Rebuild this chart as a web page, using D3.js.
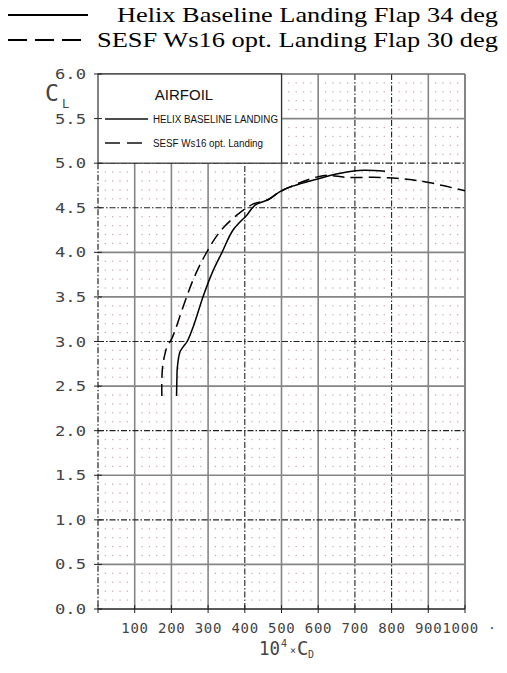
<!DOCTYPE html>
<html>
<head>
<meta charset="utf-8">
<script src="https://cdn.jsdelivr.net/npm/d3@7"></script>
<style>
  body { margin: 0; background: #fff; }
  svg { display: block; }
</style>
</head>
<body>
<div id="chart"></div>
<script>
// values (CD in 10^4 units, CL)
const helixCD = [214, 215, 216, 223, 232, 243, 259, 286, 311, 338, 368, 406, 428, 463, 496, 515, 613, 678, 722, 782];
const helixCL = [2.39, 2.59, 2.70, 2.88, 2.94, 3.00, 3.16, 3.50, 3.77, 4.00, 4.25, 4.42, 4.53, 4.59, 4.68, 4.72, 4.84, 4.90, 4.92, 4.91];
const sesfCD = [174, 174, 177, 183, 188, 202, 232, 259, 292, 332, 379, 422, 463, 496, 613, 678, 768, 842, 905, 1000];
const sesfCL = [2.39, 2.59, 2.75, 2.87, 2.94, 3.04, 3.39, 3.69, 3.97, 4.23, 4.42, 4.54, 4.59, 4.68, 4.86, 4.84, 4.84, 4.82, 4.78, 4.69];

const xTicks = [100, 200, 300, 400, 500, 600, 700, 800, 900, 1000];
const yTicks = [0, 0.5, 1.0, 1.5, 2.0, 2.5, 3.0, 3.5, 4.0, 4.5, 5.0, 5.5, 6.0];

const seriesNames = ["Helix Baseline Landing Flap 34 deg", "SESF Ws16 opt. Landing Flap 30 deg"];
const innerNames = ["HELIX BASELINE LANDING", "SESF Ws16 opt. Landing"];

const width = 507, height = 673;
const plotFont = "'DejaVu Sans Mono', monospace";

const svg = d3.select("#chart")
  .append("svg")
    .attr("width", width)
    .attr("height", height);

svg.append("rect").attr("width", width).attr("height", height).attr("fill", "#fff");

const x = d3.scaleLinear().domain([0, 1000]).range([98, 465]);
const y = d3.scaleLinear().domain([0, 6]).range([609, 74]);

// minor dot lattice
const dots = svg.append("g").attr("fill", "#c7a2ac");
for (let cx = 20; cx < 1000; cx += 20) {
  if (cx % 100 === 0) continue;
  for (let k = 1; k < 60; k++) {
    if (k % 5 === 0) continue;
    dots.append("rect")
      .attr("x", x(cx) - 0.6)
      .attr("y", y(k / 10) - 0.6)
      .attr("width", 1.2)
      .attr("height", 1.2);
  }
}

// major grid: some lines solid grey, some dash-dot dark (as in the scan)
const dashX = [400, 700, 800];
const dashY = [0, 1.0, 2.0, 3.0, 4.5, 5.0];

const grid = svg.append("g");
grid.selectAll(".gx")
  .data(xTicks)
  .enter()
  .append("line")
    .attr("x1", d => x(d)).attr("x2", d => x(d))
    .attr("y1", y(0)).attr("y2", y(6))
    .attr("stroke", d => dashX.includes(d) ? "#222" : "#858585")
    .attr("stroke-width", d => dashX.includes(d) ? 1.1 : 1.6)
    .attr("stroke-dasharray", d => dashX.includes(d) ? "6,2,1.5,2" : null);

grid.selectAll(".gy")
  .data(yTicks.filter(d => d > 0 && d < 6))
  .enter()
  .append("line")
    .attr("x1", x(0)).attr("x2", x(1000))
    .attr("y1", d => y(d)).attr("y2", d => y(d))
    .attr("stroke", d => dashY.includes(d) ? "#222" : "#858585")
    .attr("stroke-width", d => dashY.includes(d) ? 1.1 : 1.6)
    .attr("stroke-dasharray", d => dashY.includes(d) ? "6,2,1.5,2" : null);

// frame
svg.append("line")
  .attr("x1", x(0)).attr("x2", x(1000)).attr("y1", y(6)).attr("y2", y(6))
  .attr("stroke", "#666").attr("stroke-width", 1.6);
svg.append("line")
  .attr("x1", x(1000)).attr("x2", x(1000)).attr("y1", y(6)).attr("y2", y(0))
  .attr("stroke", "#808080").attr("stroke-width", 1.6);
svg.append("line")
  .attr("x1", x(0)).attr("x2", x(1000)).attr("y1", y(0)).attr("y2", y(0))
  .attr("stroke", "#222").attr("stroke-width", 1.6);
svg.append("line")
  .attr("x1", x(0)).attr("x2", x(0)).attr("y1", y(5)).attr("y2", y(0))
  .attr("stroke", "#222").attr("stroke-width", 1.2)
  .attr("stroke-dasharray", "6,2,1.5,2");

// inner legend box (covers the grid in the top-left corner)
svg.append("rect")
  .attr("x", x(0)).attr("y", y(6))
  .attr("width", x(500) - x(0)).attr("height", y(5) - y(6))
  .attr("fill", "#fff")
  .attr("stroke", "#333").attr("stroke-width", 1.2);

// ticks
svg.append("g").selectAll("line")
  .data(yTicks)
  .enter()
  .append("line")
    .attr("x1", x(0) - 4).attr("x2", x(0) + 4)
    .attr("y1", d => y(d)).attr("y2", d => y(d))
    .attr("stroke", "#222").attr("stroke-width", 1);
svg.append("g").selectAll("line")
  .data([0].concat(xTicks))
  .enter()
  .append("line")
    .attr("x1", d => x(d)).attr("x2", d => x(d))
    .attr("y1", y(0) - 4).attr("y2", y(0) + 4)
    .attr("stroke", "#222").attr("stroke-width", 1);

// tick labels
svg.append("g").selectAll("text")
  .data(yTicks)
  .enter()
  .append("text")
    .attr("x", 86)
    .attr("y", d => y(d) + 5)
    .attr("text-anchor", "end")
    .attr("font-family", plotFont)
    .attr("font-size", "14px")
    .attr("fill", "#444")
    .attr("textLength", 31)
    .attr("lengthAdjust", "spacingAndGlyphs")
    .text(d => d.toFixed(1));

// x labels are right aligned in fixed character cells, so "9001000" runs together
svg.append("g").selectAll("text")
  .data(xTicks)
  .enter()
  .append("text")
    .attr("x", d => x(d) + 14)
    .attr("y", 633)
    .attr("text-anchor", "end")
    .attr("font-family", plotFont)
    .attr("font-size", "14px")
    .attr("letter-spacing", "0.7px")
    .attr("fill", "#444")
    .text(d => d);

svg.append("text")
  .attr("x", 488).attr("y", 632)
  .attr("font-family", plotFont)
  .attr("font-size", "13px")
  .attr("fill", "#444")
  .text("·");

// axis titles
const xTitle = svg.append("text")
  .attr("font-family", plotFont)
  .attr("fill", "#444");
xTitle.append("tspan").attr("x", 259).attr("y", 655).attr("font-size", "19px")
  .attr("textLength", 21).attr("lengthAdjust", "spacingAndGlyphs").text("10");
xTitle.append("tspan").attr("x", 281).attr("y", 647).attr("font-size", "10px").text("4");
xTitle.append("tspan").attr("x", 290).attr("y", 654).attr("font-size", "10px").text("×");
xTitle.append("tspan").attr("x", 297).attr("y", 655).attr("font-size", "19px").text("C");
xTitle.append("tspan").attr("x", 308).attr("y", 658).attr("font-size", "10px").text("D");

svg.append("text")
  .attr("x", 45).attr("y", 101)
  .attr("font-family", plotFont)
  .attr("font-size", "23px")
  .attr("fill", "#444")
  .text("C");
svg.append("text")
  .attr("x", 62).attr("y", 108)
  .attr("font-family", plotFont)
  .attr("font-size", "12px")
  .attr("fill", "#444")
  .text("L");

// curves
const line = d3.line()
  .x(d => x(d[0]))
  .y(d => y(d[1]))
  .curve(d3.curveCatmullRom.alpha(0.5));

const helix = helixCD.map((v, i) => [v, helixCL[i]]);
const sesf = sesfCD.map((v, i) => [v, sesfCL[i]]);

svg.append("path")
  .attr("d", line(helix))
  .attr("fill", "none")
  .attr("stroke", "#000")
  .attr("stroke-width", 1.5);

svg.append("path")
  .attr("d", line(sesf))
  .attr("fill", "none")
  .attr("stroke", "#000")
  .attr("stroke-width", 1.5)
  .attr("stroke-dasharray", "12,6");

// inner legend
svg.append("text")
  .attr("x", 184).attr("y", 100)
  .attr("text-anchor", "middle")
  .attr("font-family", "'Liberation Sans', Arial, sans-serif")
  .attr("font-size", "15px")
  .attr("fill", "#111")
  .text("AIRFOIL");

const innerRows = [119, 143];
innerNames.forEach((name, i) => {
  svg.append("line")
    .attr("x1", 105).attr("x2", 148)
    .attr("y1", innerRows[i]).attr("y2", innerRows[i])
    .attr("stroke", "#111").attr("stroke-width", 1.3)
    .attr("stroke-dasharray", i === 1 ? "15,7" : null);
  svg.append("text")
    .attr("x", 153).attr("y", innerRows[i] + 3.5)
    .attr("font-family", "'Liberation Sans', Arial, sans-serif")
    .attr("font-size", "10px")
    .attr("fill", "#111")
    .attr("textLength", i === 0 ? 125 : 110)
    .attr("lengthAdjust", "spacingAndGlyphs")
    .text(name);
});

// top legend
const topRows = [15, 40];
const topTextX = [117, 97];
const topTextW = [381, 401];
seriesNames.forEach((name, i) => {
  svg.append("line")
    .attr("x1", 8).attr("x2", i === 0 ? 88 : 83)
    .attr("y1", topRows[i]).attr("y2", topRows[i])
    .attr("stroke", "#000").attr("stroke-width", 2)
    .attr("stroke-dasharray", i === 1 ? "19,8" : null);
  svg.append("text")
    .attr("x", topTextX[i]).attr("y", topRows[i] + 7)
    .attr("font-family", "'Liberation Serif', 'Times New Roman', serif")
    .attr("font-size", "22px")
    .attr("fill", "#000")
    .attr("textLength", topTextW[i])
    .attr("lengthAdjust", "spacingAndGlyphs")
    .text(name);
});
</script>
</body>
</html>
